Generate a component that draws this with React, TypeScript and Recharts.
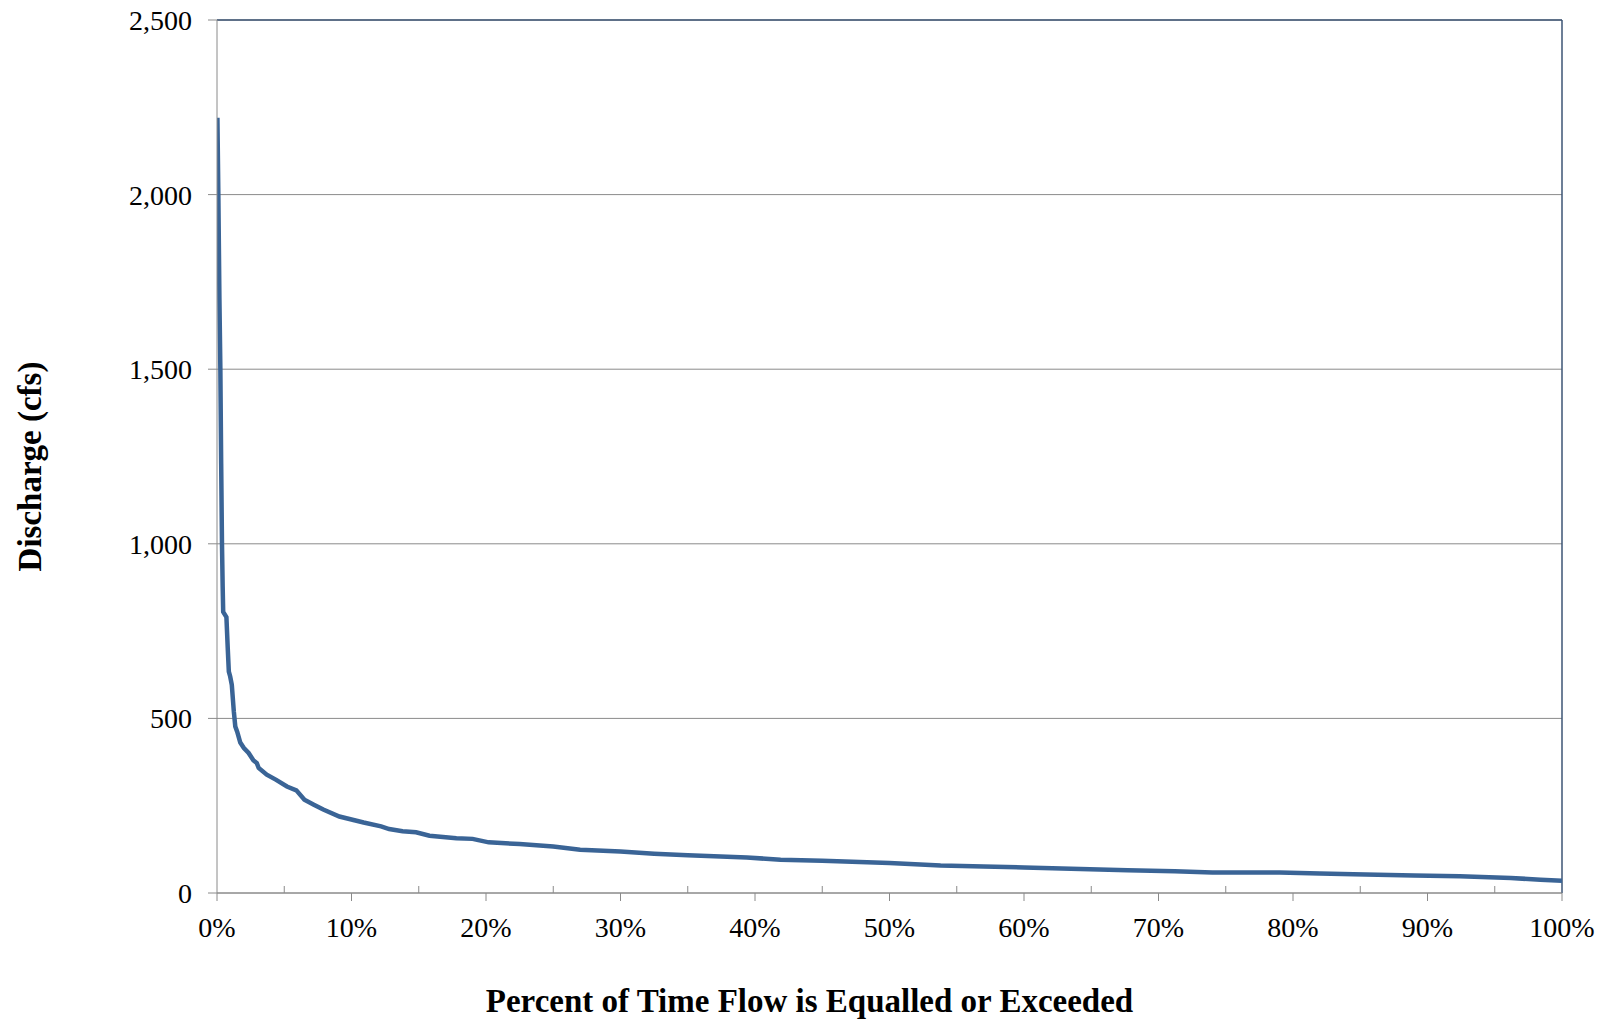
import React from "react";
import {
  LineChart,
  Line,
  XAxis,
  YAxis,
  CartesianGrid,
  ReferenceLine,
} from "recharts";

// Percent of time flow is equalled or exceeded (%)
const percentExceeded: number[] = [
  0.03, 0.1, 0.18, 0.25, 0.31, 0.37, 0.42, 0.46, 0.7, 0.8, 0.88, 0.98, 1.1,
  1.25, 1.36, 1.5, 1.73, 2.0, 2.35, 2.7, 2.96, 3.1, 3.7, 4.4, 5.2, 5.9, 6.5,
  7.2, 7.9, 9.1, 10.9, 12.2, 12.8, 13.8, 14.8, 15.8, 17.8, 19.0, 20.2, 22.5,
  25, 27, 30, 32.5, 35, 39.4, 41.9, 45, 50, 53.8, 57, 60, 64.2, 67.7, 71.2, 74,
  79, 82, 84.5, 89, 92.4, 96.2, 98.4, 100,
];

// Discharge (cfs)
const discharge: number[] = [
  2220, 2000, 1700, 1500, 1230, 1000, 880, 805, 790, 700, 634, 620, 596, 520,
  477, 462, 431, 415, 401, 380, 372, 358, 339, 324, 305, 294, 267, 253, 239,
  219, 202, 191, 183, 177, 174, 164, 157, 155, 145, 140, 133, 124, 119, 112.5,
  108, 102, 95, 92.5, 86, 79, 76, 73, 69, 65, 62, 59, 59, 56, 54, 50, 48, 43,
  38, 35,
];

const xMajorTicks: number[] = [0, 10, 20, 30, 40, 50, 60, 70, 80, 90, 100];
const xMinorTicks: number[] = [5, 15, 25, 35, 45, 55, 65, 75, 85, 95];
const yTicks: number[] = [0, 500, 1000, 1500, 2000, 2500];

const xTitle = "Percent of Time Flow is Equalled or Exceeded";
const yTitle = "Discharge (cfs)";

const data = percentExceeded.map((p, i) => ({ p, q: discharge[i] }));

const FONT = '"Liberation Serif", "Times New Roman", serif';
const AXIS_GRAY = "#8a8a8a";
const BORDER = "#3d5574";
const LINE = "#3a6496";

const fmtComma = (v: number) => v.toLocaleString("en-US");

export default function App() {
  return (
    <div
      style={{
        position: "absolute",
        left: 0,
        top: 0,
        width: 1609,
        height: 1020,
        background: "#ffffff",
      }}
    >
      <LineChart
        width={1609}
        height={1020}
        data={data}
        margin={{ top: 20, right: 47, bottom: 0, left: 0 }}
      >
        <CartesianGrid
          vertical={false}
          stroke={AXIS_GRAY}
          strokeWidth={1}
          horizontalValues={yTicks}
        />
        <XAxis
          dataKey="p"
          type="number"
          domain={[0, 100]}
          ticks={xMajorTicks}
          tickFormatter={(v: number) => `${v}%`}
          height={127}
          stroke={AXIS_GRAY}
          tickSize={8}
          tickMargin={16}
          tick={{ fill: "#000", fontSize: 28, fontFamily: FONT }}
          interval={0}
          allowDataOverflow
          label={{
            value: xTitle,
            position: "insideBottom",
            offset: 8,
            dx: -80,
            style: {
              fontFamily: FONT,
              fontSize: 33,
              fontWeight: "bold",
              fill: "#000",
            },
          }}
        />
        <XAxis
          xAxisId="minor"
          dataKey="p"
          type="number"
          domain={[0, 100]}
          ticks={xMinorTicks}
          mirror
          height={1}
          axisLine={false}
          stroke={AXIS_GRAY}
          tickSize={7}
          tick={() => <g />}
          interval={0}
        />
        <YAxis
          type="number"
          domain={[0, 2500]}
          ticks={yTicks}
          tickFormatter={fmtComma}
          width={217}
          stroke={AXIS_GRAY}
          tickSize={9}
          tickMargin={16}
          tick={{ fill: "#000", fontSize: 28, fontFamily: FONT }}
          interval={0}
          label={{
            value: yTitle,
            position: "center",
            angle: -90,
            dx: -79,
            dy: 10,
            style: {
              fontFamily: FONT,
              fontSize: 33,
              fontWeight: "bold",
              fill: "#000",
              textAnchor: "middle",
            },
          }}
        />
        <ReferenceLine y={2500} stroke={BORDER} strokeWidth={1.5} ifOverflow="extendDomain" />
        <ReferenceLine x={100} stroke={BORDER} strokeWidth={1.5} ifOverflow="extendDomain" />
        <Line
          type="linear"
          dataKey="q"
          stroke={LINE}
          strokeWidth={4.5}
          dot={false}
          activeDot={false}
          isAnimationActive={false}
        />
      </LineChart>
    </div>
  );
}
